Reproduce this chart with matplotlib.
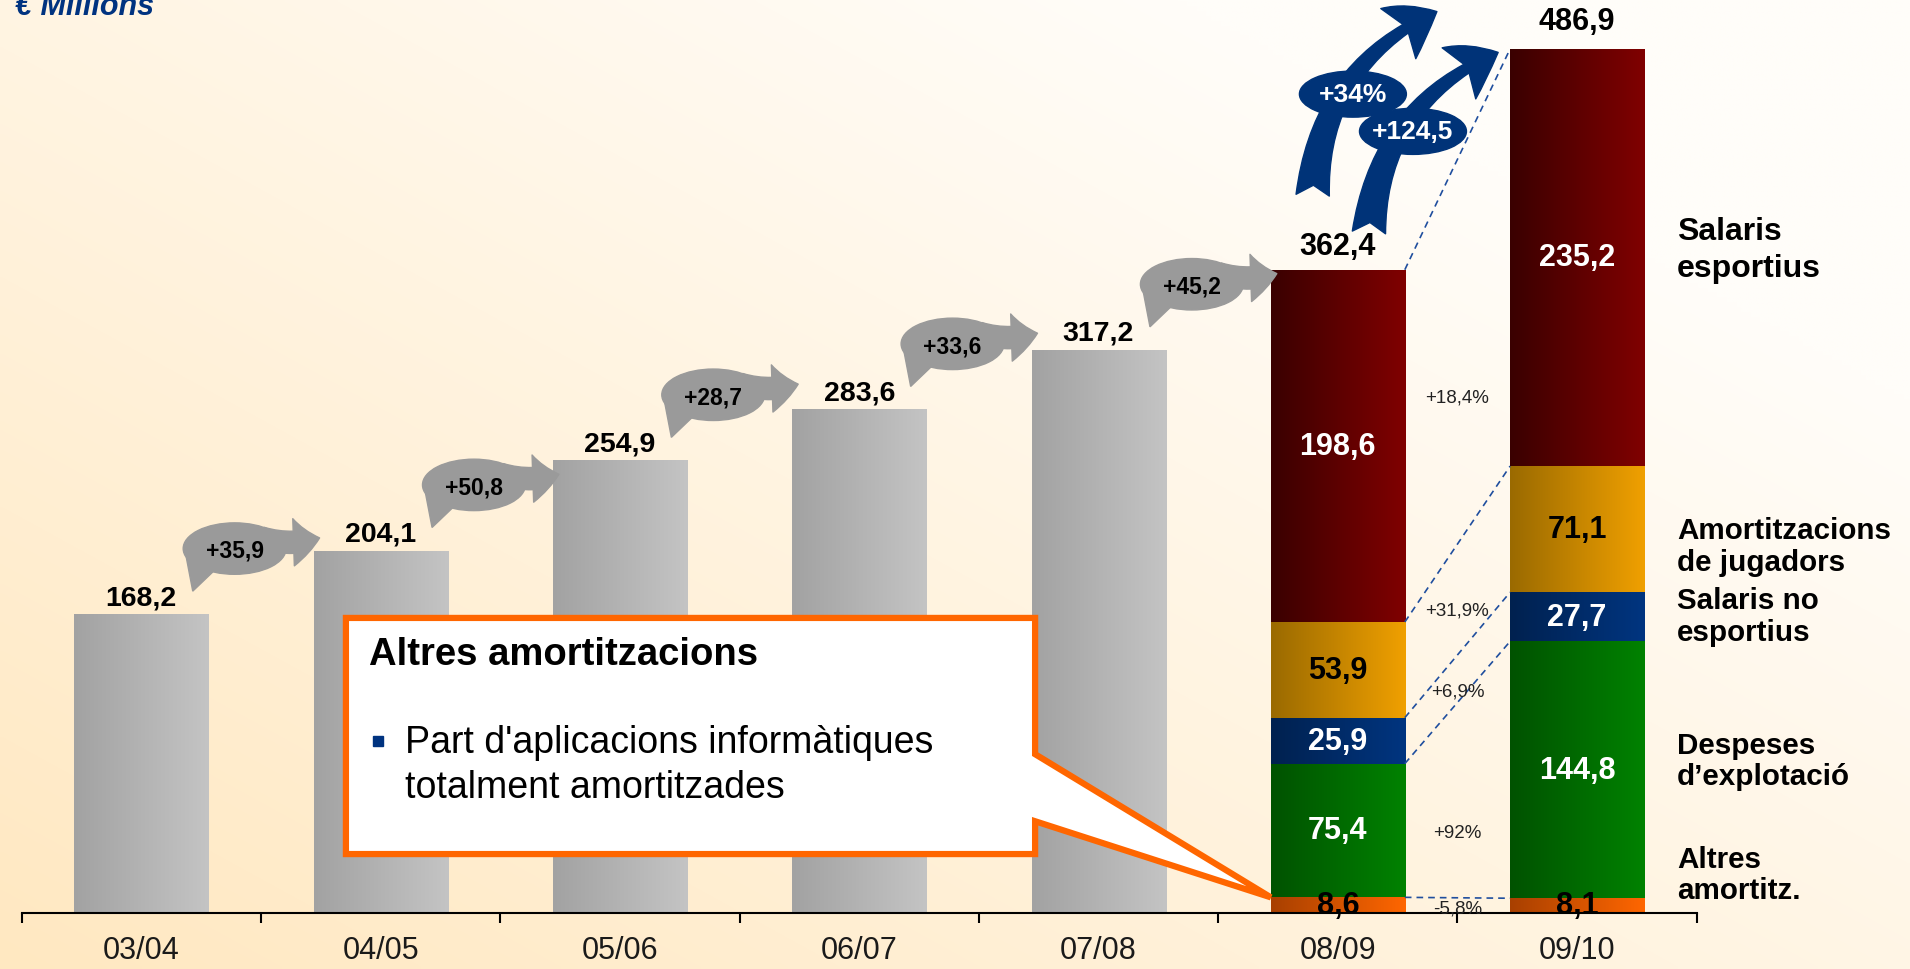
import numpy as np
import matplotlib
matplotlib.use('Agg')
import matplotlib.pyplot as plt
from matplotlib import font_manager as fm
from matplotlib.colors import LinearSegmentedColormap
from matplotlib.patches import Ellipse, Polygon, FancyArrowPatch

# data
seasons = ['03/04', '04/05', '05/06', '06/07', '07/08', '08/09', '09/10']
totals_hist = [168.2, 204.1, 254.9, 283.6, 317.2]
components = ['Altres\namortitz.', 'Despeses\nd\u2019explotaci\u00f3', 'Salaris no\nesportius',
              'Amortitzacions\nde jugadors', 'Salaris\nesportius']
comp_0809 = [8.6, 75.4, 25.9, 53.9, 198.6]
comp_0910 = [8.1, 144.8, 27.7, 71.1, 235.2]
pct_labels = ['-5,8%', '+92%', '+6,9%', '+31,9%', '+18,4%']

# layout / style
pct_y = [2.7, 45.3, 125, 170.3, 290.5]
comp_label_y = [21.6, 85.9, 167.2, 206.7, 374]
comp_label_size = [21.3, 21.3, 21.3, 21.3, 23]
comp_label_ls = [1.15, 1.15, 1.15, 1.15, 1.3]
comp_left = ['#a84000', '#005200', '#00214f', '#9a6a00', '#3a0000']
comp_right = ['#ff6600', '#008200', '#003580', '#f0a000', '#800000']
comp_txt = ['black', 'white', 'white', 'black', 'white']
GRAY = '#9a9a9a'
BLUE = '#003378'
ORANGE = '#ff6600'

try:
    fm.findfont('Liberation Sans Narrow', fallback_to_default=False)
    NARROW, ns = 'Liberation Sans Narrow', 1.1
except ValueError:
    NARROW, ns = 'Liberation Sans', 1.0
SANS = 'Liberation Sans'


def fmt(v):
    return f'{v:.1f}'.replace('.', ',')


fig = plt.figure(figsize=(19.1, 9.7), dpi=100)

# background gradient
bg = fig.add_axes([0, 0, 1, 1])
bg.axis('off')
yy, xx = np.mgrid[0:1:200j, 0:1:400j]
w = np.clip(1 - 0.65 * xx - 0.6 * (1 - yy), 0, 1)[..., None]
peach = np.array([255, 232, 193]) / 255
white = np.array([255, 253, 249]) / 255
bg.imshow(w * peach + (1 - w) * white, aspect='auto', extent=(0, 1, 0, 1), interpolation='bilinear')
bg.set_xlim(0, 1)
bg.set_ylim(0, 1)

ax = fig.add_axes([0, 56.4 / 970, 1, 913.6 / 970])
ax.patch.set_alpha(0)


def shade(bar, c0, c1, z=2):
    cmap = LinearSegmentedColormap.from_list('g', [c0, c1])
    x0, y0 = bar.get_x(), bar.get_y()
    im = ax.imshow(np.linspace(0, 1, 256)[None, :], cmap=cmap, aspect='auto',
                   extent=(x0, x0 + bar.get_width(), y0, y0 + bar.get_height()),
                   zorder=z, interpolation='bilinear')
    im.set_clip_path(bar)


x = np.arange(len(seasons))
W = 0.56
totals = totals_hist + [sum(comp_0809), sum(comp_0910)]

bars = ax.bar(x[:5], totals_hist, width=W, color='none', zorder=2)
for b, v in zip(bars, totals_hist):
    shade(b, '#a2a2a2', '#c4c4c4')
    ax.annotate(fmt(v), (b.get_x() + W / 2, v), xytext=(0, 3), textcoords='offset points',
                ha='center', va='bottom', fontsize=20.5, fontweight='bold', family=SANS, zorder=8)

bot = np.zeros(2)
cum = [[0.0], [0.0]]
for k in range(5):
    vals = [comp_0809[k], comp_0910[k]]
    segs = ax.bar(x[5:], vals, bottom=bot, width=W, color='none', zorder=3)
    for j, (s, v) in enumerate(zip(segs, vals)):
        shade(s, comp_left[k], comp_right[k], z=3)
        ax.text(s.get_x() + W / 2, bot[j] + v / 2, fmt(v), ha='center', va='center',
                fontsize=22 * ns, fontweight='bold', family=NARROW, color=comp_txt[k], zorder=8)
    bot = bot + vals
    cum[0].append(bot[0])
    cum[1].append(bot[1])

for j in range(2):
    ax.annotate(fmt(totals[5 + j]), (x[5 + j], totals[5 + j]), xytext=(0, 6 + 3 * j),
                textcoords='offset points', ha='center', va='bottom', fontsize=22,
                fontweight='bold', family=SANS, zorder=8)

# dashed connectors and changes
for k in range(1, 6):
    ax.plot([x[5] + W / 2, x[6] - W / 2], [cum[0][k], cum[1][k]], ls=(0, (4, 3)),
            lw=1.2, color='#1f4e9e', zorder=4)
for lab, yv in zip(pct_labels, pct_y):
    ax.text(5.5, yv, lab, ha='center', va='center', fontsize=13.5 * ns, family=NARROW,
            color='#222222', zorder=8)

for lab, yv, fs, ls in zip(components, comp_label_y, comp_label_size, comp_label_ls):
    ax.text(6.417, yv, lab, ha='left', va='center', fontsize=fs, fontweight='bold',
            family=SANS, linespacing=ls, zorder=8)

# gray bubbles
for i in range(5):
    d = totals[i + 1] - totals[i]
    cx, cy = x[i] + 0.39, totals[i] + 37
    ax.add_patch(FancyArrowPatch((x[i] + 0.5, cy + 6), (x[i] + 0.745, cy + 6),
                                 arrowstyle='simple,head_length=19,head_width=34,tail_width=16',
                                 connectionstyle='arc3,rad=0.15', color=GRAY,
                                 shrinkA=0, shrinkB=0, zorder=4))
    ax.add_patch(Ellipse((cx, cy), 0.43, 29, color=GRAY, zorder=4))
    a1, a2 = np.radians([200, 245])
    ax.add_patch(Polygon([(cx + 0.215 * np.cos(a1), cy + 14.5 * np.sin(a1)),
                          (cx + 0.215 * np.cos(a2), cy + 14.5 * np.sin(a2)),
                          (x[i] + 0.215, totals[i] + 13)], color=GRAY, zorder=4))
    ax.text(cx, cy - 1, '+' + fmt(d), ha='center', va='center', fontsize=16.5,
            fontweight='bold', family=SANS, zorder=8)

# blue arrows
t0, t1 = totals[5], totals[6]
pct = f'+{(t1 / t0 - 1) * 100:.0f}%'
for (sa, ea, ell, lab) in [((x[5] - 0.105, t0 + 42), (x[6] - 0.586, t1 + 21), (x[5] + 0.063, t0 + 99), pct),
                           ((x[5] + 0.13, t0 + 21), (x[6] - 0.33, t1 - 2), (x[5] + 0.314, t0 + 78),
                            '+' + fmt(t1 - t0))]:
    ax.add_patch(FancyArrowPatch(sa, ea, arrowstyle='fancy,head_length=32,head_width=44,tail_width=24',
                                 connectionstyle='arc3,rad=-0.3', color=BLUE,
                                 shrinkA=0, shrinkB=0, zorder=5, clip_on=False))
    ax.add_patch(Ellipse(ell, 0.447, 26, color=BLUE, zorder=5, clip_on=False))
    ax.text(ell[0], ell[1], lab, ha='center', va='center', fontsize=19, fontweight='bold',
            family=SANS, color='white', zorder=8)

# callout
x0, x1, y0, y1 = 0.855, 3.735, 33.0, 166.1
tip = (x[5] - W / 2, comp_0809[0])
ax.add_patch(Polygon([(x0, y0), (x1, y0), (x1, 51.5), tip, (x1, 89.3), (x1, y1), (x0, y1)],
                     closed=True, facecolor='white', edgecolor=ORANGE, lw=4.5,
                     joinstyle='miter', zorder=6))
ax.text(0.952, 145.6, 'Altres amortitzacions', ha='left', va='center', fontsize=27.5 * ns,
        fontweight='bold', family=NARROW, zorder=8)
ax.plot([0.987], [96.8], marker='s', ms=7, color='#003380', zorder=8)
ax.text(1.104, 96.2, "Part d'aplicacions inform\u00e0tiques", ha='left', va='center',
        fontsize=27 * ns, family=NARROW, zorder=8)
ax.text(1.104, 70.7, 'totalment amortitzades', ha='left', va='center',
        fontsize=27 * ns, family=NARROW, zorder=8)

# axis
ax.set_xlim(-0.5905, 7.391)
ax.set_ylim(0, 515.0)
for s in ['top', 'left', 'right']:
    ax.spines[s].set_visible(False)
ax.spines['bottom'].set_bounds(-0.5, 6.5)
ax.spines['bottom'].set_linewidth(1.5)
ax.spines['bottom'].set_zorder(7)
ax.set_yticks([])
ax.set_xticks(np.arange(-0.5, 7), [''] * 8)
ax.set_xticks(x, seasons, minor=True)
ax.tick_params(axis='x', which='major', direction='out', length=7, width=1.5)
ax.tick_params(axis='x', which='minor', length=0, pad=16, labelsize=22 * ns)
for t in ax.get_xticklabels(minor=True):
    t.set_family(NARROW)
    t.set_color('#1a1a1a')

fig.text(12 * 1.218 / 1910, 1 - 15 / 970, '\u20ac Millions', fontsize=22, fontweight='bold',
         fontstyle='italic', family=SANS, color='#003380', va='baseline', ha='left')

fig.savefig('out.png', dpi=100)
